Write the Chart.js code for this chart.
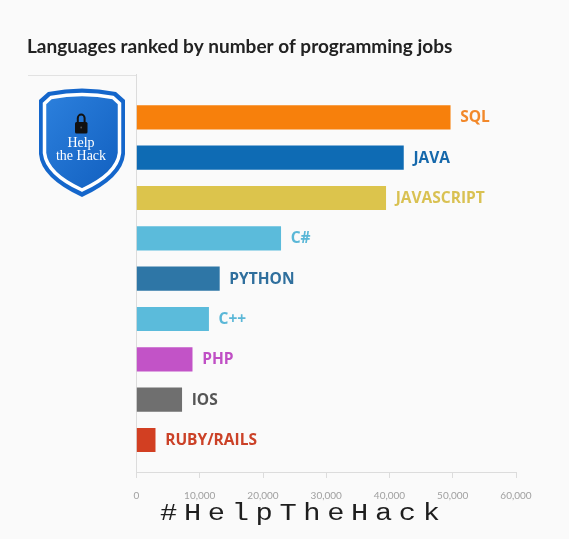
<!DOCTYPE html>
<html>
<head>
<meta charset="utf-8">
<script src="https://cdn.jsdelivr.net/npm/chart.js@4.4.0/dist/chart.umd.min.js"></script>
<style>
  html, body { margin: 0; padding: 0; background: #fafafa; }
  #wrap { position: relative; width: 569px; height: 539px; overflow: hidden; }
  #jobsChart, #logo { position: absolute; left: 0; top: 0; }
  #tag {
    position: absolute; left: 160px; top: 503px;
    font: 23px 'Liberation Mono', monospace; line-height: 23px;
    letter-spacing: 5.3px; color: #1e1e1e; white-space: nowrap;
    transform: scaleX(1.25); transform-origin: 0 0;
  }
</style>
</head>
<body>
<div id="wrap">
  <canvas id="jobsChart" width="569" height="539"></canvas>
  <svg id="logo" width="569" height="539">
    <defs>
      <linearGradient id="shieldFill" x1="0" y1="0" x2="1" y2="1">
        <stop offset="0" stop-color="#2c80dd"/>
        <stop offset="1" stop-color="#115fbf"/>
      </linearGradient>
    </defs>
    <line x1="28" y1="75.5" x2="136" y2="75.5" stroke="#e2e2e2" stroke-width="1"/>
    <path d="M48,92 Q82,85 116,92 L125,100 L125,154 Q123,178 82,197 Q41,178 39,154 L39,100 Z" fill="#1466cb"/>
    <path d="M51,97.5 Q82,91.5 113,97.5 L119.5,103.5 L119.5,153 Q117,174 82,190 Q47,174 44.5,153 L44.5,103.5 Z"
          fill="url(#shieldFill)" stroke="#fff" stroke-width="3.5"/>
    <path d="M77.8,122.5 V118 A3.4,3.4 0 0 1 84.6,118 V122.5" fill="none" stroke="#111" stroke-width="2"/>
    <rect x="75" y="122" width="12.5" height="11.5" rx="1.5" fill="#111"/>
    <circle cx="81.2" cy="127.5" r="0.9" fill="#555"/>
    <text x="81" y="147" fill="#fff" font-family="Liberation Serif" font-size="14" text-anchor="middle">Help</text>
    <text x="81" y="159.5" fill="#fff" font-family="Liberation Serif" font-size="14" text-anchor="middle">the Hack</text>
  </svg>
  <div id="tag">#HelpTheHack</div>
</div>
<script>
const languages = ['SQL', 'JAVA', 'JAVASCRIPT', 'C#', 'PYTHON', 'C++', 'PHP', 'IOS', 'RUBY/RAILS'];
const jobs = [49600, 42200, 39400, 22800, 13100, 11400, 8800, 7150, 2950];
const barColors = ['#f7800c', '#0e6bb4', '#dcc44c', '#5bbbdb', '#2e76a6', '#5bbbdb', '#c253c7', '#6f6f6f', '#d23f22'];
const labelColors = ['#f2882a', '#1568ab', '#d9c152', '#5ab7d7', '#2f6f9d', '#5ab7d7', '#c04fc5', '#555555', '#cb4127'];
const xTickValues = [0, 10000, 20000, 30000, 40000, 50000, 60000];

// labels at the end of each bar
const endLabels = {
  id: 'endLabels',
  afterDatasetsDraw(chart) {
    const ctx = chart.ctx;
    const meta = chart.getDatasetMeta(0);
    ctx.save();
    ctx.font = 'bold 15.5px "Open Sans"';
    ctx.textBaseline = 'middle';
    meta.data.forEach((bar, i) => {
      ctx.fillStyle = labelColors[i];
      ctx.fillText(languages[i], bar.x + 10, bar.y + 0.5);
    });
    ctx.restore();
  }
};

const ctx = document.getElementById('jobsChart').getContext('2d');
new Chart(ctx, {
  type: 'bar',
  data: {
    datasets: [{
      data: jobs.map((v, i) => ({ x: v, y: i })),
      backgroundColor: barColors,
      barThickness: 23.5,
      borderWidth: 0
    }]
  },
  plugins: [endLabels],
  options: {
    indexAxis: 'y',
    responsive: false,
    animation: false,
    devicePixelRatio: 1,
    layout: { padding: { left: 27, right: 53, top: 0, bottom: 37 } },
    plugins: {
      legend: { display: false },
      tooltip: { enabled: false },
      title: {
        display: true,
        text: 'Languages ranked by number of programming jobs',
        align: 'start',
        color: '#222',
        font: { family: 'Lato', weight: 'bold', size: 19 },
        padding: { top: 35, bottom: 17 }
      }
    },
    scales: {
      x: {
        type: 'linear',
        min: 0,
        max: 60000,
        afterBuildTicks: s => { s.ticks = xTickValues.map(v => ({ value: v })); },
        afterFit: s => { s.height = 30; },
        grid: { drawOnChartArea: false, color: '#dcdcdc', tickLength: 6 },
        border: { color: '#dcdcdc' },
        ticks: {
          color: '#a0a0a0',
          padding: 12,
          maxRotation: 0,
          font: { family: 'Lato', size: 10 },
          callback: v => v.toLocaleString('en-US')
        }
      },
      y: {
        type: 'linear',
        reverse: true,
        offset: false,
        min: -1.054,
        max: 8.794,
        afterFit: s => { s.width = 109.5; },
        grid: { display: false, offset: false },
        border: { color: '#dcdcdc' },
        ticks: { display: false }
      }
    }
  }
});
</script>
</body>
</html>
